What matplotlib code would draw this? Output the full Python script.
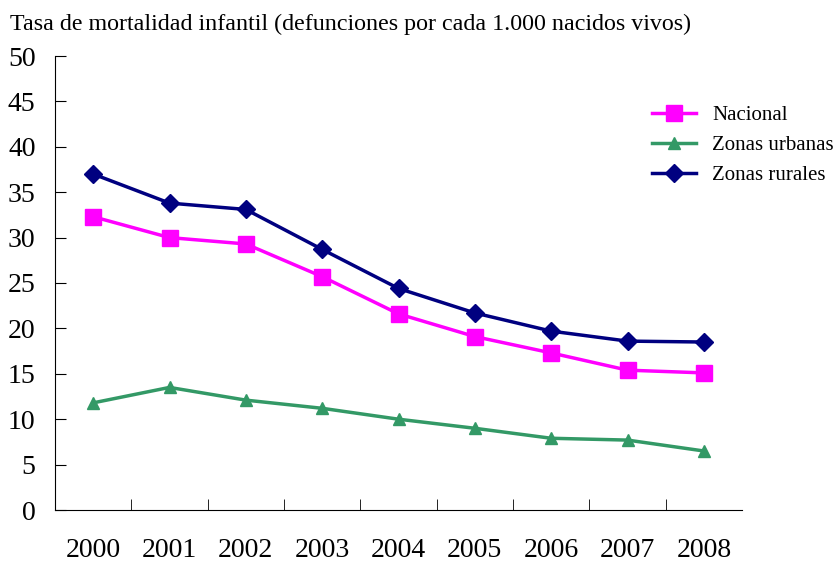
import matplotlib
matplotlib.use("Agg")
import matplotlib.pyplot as plt
import numpy as np

plt.rcParams['font.family'] = ['Liberation Serif', 'DejaVu Serif']

years = ["2000", "2001", "2002", "2003", "2004", "2005", "2006", "2007", "2008"]
nacional = [32.3, 30.0, 29.3, 25.7, 21.6, 19.1, 17.3, 15.4, 15.1]
urbanas = [11.8, 13.5, 12.1, 11.2, 10.0, 9.0, 7.9, 7.7, 6.5]
rurales = [37.0, 33.8, 33.1, 28.7, 24.4, 21.7, 19.7, 18.6, 18.5]

fig = plt.figure(figsize=(8.38, 5.63), dpi=100)
ax = fig.add_axes([55 / 838, 53 / 563, 687 / 838, 454 / 563])

x = np.arange(len(years))
ax.plot(x, nacional, color="#FF00FF", lw=2.5, marker="s", markersize=11, label="Nacional")
ax.plot(x, urbanas, color="#339966", lw=2.5, marker="^", markersize=8, label="Zonas urbanas")
ax.plot(x, rurales, color="#000080", lw=2.5, marker="D", markersize=9, label="Zonas rurales")

ax.set_xlim(-0.5, len(years) - 0.5)
ax.set_ylim(0, 50)
ax.set_yticks(range(0, 51, 5))
ax.tick_params(axis="y", direction="in", length=8, labelsize=20, pad=14)
ax.set_xticks(x)
ax.set_xticklabels(years)
ax.tick_params(axis="x", which="major", length=0, labelsize=20, pad=20)
ax.set_xticks(np.arange(0.5, len(years) - 1, 1), minor=True)
ax.tick_params(axis="x", which="minor", direction="in", length=8)

for s in ["top", "right"]:
    ax.spines[s].set_visible(False)

fig.text(10 / 838, 1 - 24 / 563, "Tasa de mortalidad infantil (defunciones por cada 1.000 nacidos vivos)",
         fontsize=17.3, va="center", ha="left")

ax.legend(loc="upper left", bbox_to_anchor=(578 / 687, 1 - 31 / 454), frameon=False,
          fontsize=15, handlelength=2.1, labelspacing=0.5, handletextpad=0.8)

fig.savefig("out.png", dpi=100)
